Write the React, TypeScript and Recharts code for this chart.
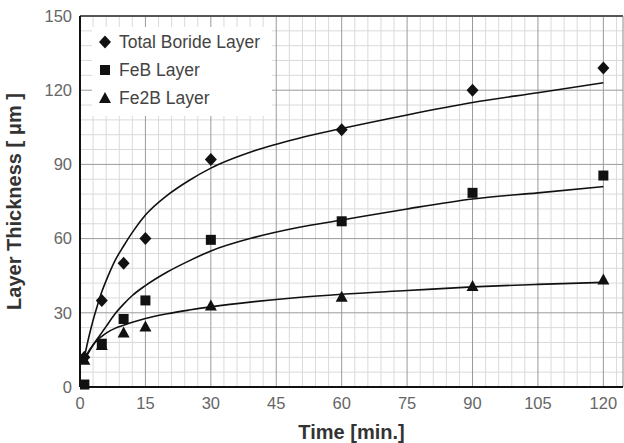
import React from "react";
import {
  ComposedChart,
  Line,
  Scatter,
  XAxis,
  YAxis,
  ReferenceLine,
} from "recharts";

// measured times (min.)
const times = [1, 5, 10, 15, 30, 60, 90, 120];
const totalBoride = [12, 35, 50, 60, 92, 104, 120, 129];
const feB = [1, 17.5, 27.5, 35, 59.5, 67, 78.5, 85.5];
const fe2B = [11, 17, 22, 24.5, 33, 36.5, 40.8, 43.5];

// fitted curves
const fitTimes = [1, 2, 3, 4, 5, 6, 8, 10, 12, 15, 20, 25, 30, 40, 50, 60, 75, 90, 105, 120];
const totalFit = [12, 20, 27, 33, 38.5, 43, 51, 57, 62.5, 69.5, 77.5, 83.5, 88.5, 95.5, 100.5, 104.5, 110, 115, 119, 123];
const feBFit = [11, 14, 17, 19.5, 22, 24.5, 29.5, 33.5, 37, 41, 46.5, 51, 55, 60.5, 64.5, 67.5, 72, 76, 78.5, 81];
const fe2BFit = [11, 14.5, 17, 19, 20.5, 21.8, 23.7, 25, 26.2, 27.7, 29.6, 31.1, 32.4, 34.5, 36.2, 37.5, 39, 40.5, 41.5, 42.3];

const xTicks = [0, 15, 30, 45, 60, 75, 90, 105, 120];
const yTicks = [0, 30, 60, 90, 120, 150];
const xMinor = Array.from({ length: 42 }, (_, i) => i * 3).filter((v) => v % 15 !== 0);
const yMinor = Array.from({ length: 26 }, (_, i) => i * 6).filter((v) => v % 30 !== 0);

const legendItems = [
  { name: "Total Boride Layer", shape: "diamond" },
  { name: "FeB Layer", shape: "square" },
  { name: "Fe2B Layer", shape: "triangle" },
];

const font = "Liberation Sans, Arial, sans-serif";

const toPoints = (xs: number[], ys: number[]) => xs.map((t, i) => ({ t, v: ys[i] }));

function Marker({ cx, cy, kind }: { cx?: number; cy?: number; kind: string }) {
  if (cx == null || cy == null) return null;
  if (kind === "diamond")
    return <path d={`M${cx},${cy - 6.5} L${cx + 6},${cy} L${cx},${cy + 6.5} L${cx - 6},${cy} Z`} fill="#111" />;
  if (kind === "square") return <rect x={cx - 5} y={cy - 5} width={10} height={10} fill="#111" />;
  return <path d={`M${cx},${cy - 6} L${cx + 6},${cy + 5} L${cx - 6},${cy + 5} Z`} fill="#111" />;
}

function LegendBox() {
  return (
    <div
      style={{
        position: "absolute",
        left: 92,
        top: 27,
        background: "#fff",
        padding: "1px 12px 4px 5px",
        fontFamily: font,
      }}
    >
      {legendItems.map((it) => (
        <div key={it.name} style={{ display: "flex", alignItems: "center", height: 28, fontSize: 17.5, color: "#444" }}>
          <svg width={16} height={16} style={{ marginRight: 6 }}>
            <Marker cx={8} cy={8} kind={it.shape} />
          </svg>
          {it.name}
        </div>
      ))}
    </div>
  );
}

export default function App() {
  return (
    <div style={{ position: "absolute", left: 0, top: 0, width: 624, height: 443, background: "#fff" }}>
      <ComposedChart
        width={624}
        height={443}
        margin={{ top: 16, right: 1, left: 0, bottom: 0 }}
        style={{ fontFamily: font }}
      >
        <XAxis
          type="number"
          dataKey="t"
          domain={[0, 124.5]}
          ticks={xTicks}
          allowDataOverflow
          tickLine={false}
          axisLine={{ stroke: "#111", strokeWidth: 2 }}
          tick={{ fill: "#666", fontSize: 16.5, dy: 2 }}
          height={56}
          label={{ value: "Time [min.]", position: "insideBottom", offset: 4, fill: "#333", fontSize: 20, fontWeight: "bold" }}
        />
        <YAxis
          type="number"
          dataKey="v"
          domain={[0, 150]}
          ticks={yTicks}
          tickLine={false}
          axisLine={{ stroke: "#111", strokeWidth: 2 }}
          tick={{ fill: "#666", fontSize: 16.5 }}
          width={80}
          label={{
            value: "Layer Thickness [ μm ]",
            angle: -90,
            position: "insideLeft",
            offset: 14,
            style: { textAnchor: "middle" },
            fill: "#333",
            fontSize: 20,
            fontWeight: "bold",
          }}
        />
        {xMinor.map((x) => (
          <ReferenceLine key={`xm${x}`} x={x} stroke="#dadada" strokeWidth={1} />
        ))}
        {yMinor.map((y) => (
          <ReferenceLine key={`ym${y}`} y={y} stroke="#dadada" strokeWidth={1} />
        ))}
        {xTicks.slice(1).map((x) => (
          <ReferenceLine key={`xM${x}`} x={x} stroke="#9a9a9a" strokeWidth={1} />
        ))}
        {yTicks.slice(1, -1).map((y) => (
          <ReferenceLine key={`yM${y}`} y={y} stroke="#9a9a9a" strokeWidth={1} />
        ))}
        <ReferenceLine y={150} stroke="#555" strokeWidth={2} />
        <ReferenceLine x={124.5} stroke="#888" strokeWidth={1} />
        <Line data={toPoints(fitTimes, totalFit)} dataKey="v" type="monotone" stroke="#111" strokeWidth={1.6} dot={false} isAnimationActive={false} />
        <Line data={toPoints(fitTimes, feBFit)} dataKey="v" type="monotone" stroke="#111" strokeWidth={1.6} dot={false} isAnimationActive={false} />
        <Line data={toPoints(fitTimes, fe2BFit)} dataKey="v" type="monotone" stroke="#111" strokeWidth={1.6} dot={false} isAnimationActive={false} />
        <Scatter name="Fe2B Layer" data={toPoints(times, fe2B)} dataKey="v" shape={(p: any) => <Marker cx={p.cx} cy={p.cy} kind="triangle" />} isAnimationActive={false} />
        <Scatter name="FeB Layer" data={toPoints(times, feB)} dataKey="v" shape={(p: any) => <Marker cx={p.cx} cy={p.cy} kind="square" />} isAnimationActive={false} />
        <Scatter name="Total Boride Layer" data={toPoints(times, totalBoride)} dataKey="v" shape={(p: any) => <Marker cx={p.cx} cy={p.cy} kind="diamond" />} isAnimationActive={false} />
      </ComposedChart>
      <LegendBox />
    </div>
  );
}
